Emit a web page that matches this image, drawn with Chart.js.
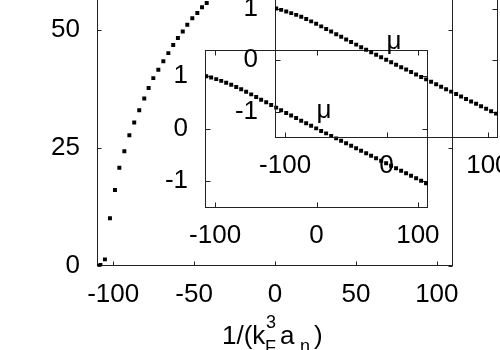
<!DOCTYPE html>
<html><head><meta charset="utf-8">
<script src="https://cdn.jsdelivr.net/npm/chart.js@4.4.1/dist/chart.umd.min.js"></script>
<style>
html,body{margin:0;padding:0;background:#fff;overflow:hidden;width:500px;height:350px;position:relative;}
canvas{position:absolute;left:0;top:-20px;}
</style></head><body>
<canvas id="main" width="600" height="400"></canvas>
<canvas id="insetLow" width="600" height="400"></canvas>
<canvas id="insetHigh" width="600" height="400"></canvas>
<script>
// main panel
const mainX = [-109.4, -107.9, -105.1, -102.0, -98.9, -96.2, -93.1, -90.0, -87.0, -83.9, -80.8, -78.1, -75.2, -72.1, -69.0, -65.9, -62.9, -60.0, -57.0, -54.2, -51.1, -48.0, -45.1, -42.2];
const mainY = [0.0, 0.2, 1.4, 10.1, 16.1, 20.8, 24.3, 27.7, 30.4, 33.0, 35.5, 37.7, 39.8, 41.6, 43.4, 45.1, 46.8, 48.3, 49.7, 51.1, 52.5, 53.6, 54.8, 55.7];
const mainXTicks = [-100, -50, 0, 50, 100];
const mainYTicks = [0, 25, 50];
// insets (mu)
const insetX = [-108.8, -103.9, -98.9, -94.0, -89.1, -84.1, -79.2, -74.3, -69.4, -64.4, -59.5, -54.6, -49.6, -44.7, -39.8, -34.9, -29.9, -25.0, -20.1, -15.1, -10.2, -5.3, -0.3, 4.6, 9.5, 14.5, 19.4, 24.3, 29.2, 34.2, 39.1, 44.0, 49.0, 53.9, 58.8, 63.8, 68.7, 73.6, 78.5, 83.5, 88.4, 93.3, 98.3, 103.2, 108.1];
const insetMu = [1.00, 0.975, 0.945, 0.912, 0.878, 0.840, 0.797, 0.752, 0.704, 0.655, 0.604, 0.554, 0.503, 0.452, 0.402, 0.352, 0.301, 0.252, 0.203, 0.153, 0.104, 0.056, 0.007, -0.041, -0.088, -0.136, -0.183, -0.230, -0.278, -0.325, -0.373, -0.420, -0.468, -0.515, -0.563, -0.610, -0.658, -0.705, -0.752, -0.800, -0.847, -0.895, -0.942, -0.990, -1.037];
const insetXTicks = [-100, 0, 100];
const insetYTicks = [-1, 0, 1];
const muLabel = 'μ';
const muAt = [0, 0.21];

const FONT = '"Liberation Sans", Arial, Helvetica, sans-serif';
Chart.defaults.font.family = FONT;
Chart.defaults.font.size = 26;
Chart.defaults.color = '#000';

function framePlugin(tickLen){
  return {id:'frame', beforeDatasetsDraw(chart){
    const {ctx, chartArea:a, scales:{x, y}} = chart;
    ctx.save(); ctx.strokeStyle = '#222'; ctx.lineWidth = 1;
    const L = Math.round(a.left)+0.5, R = Math.round(a.right)-0.5, T = Math.round(a.top)+0.5, B = Math.round(a.bottom)-0.5;
    ctx.strokeRect(L, T, R-L, B-T);
    ctx.beginPath();
    x.ticks.forEach(t => { const p = Math.round(x.getPixelForValue(t.value))+0.5;
      ctx.moveTo(p, B); ctx.lineTo(p, B-tickLen); ctx.moveTo(p, T); ctx.lineTo(p, T+tickLen); });
    y.ticks.forEach(t => { const p = Math.round(y.getPixelForValue(t.value))+0.5;
      ctx.moveTo(L, p); ctx.lineTo(L+tickLen, p); ctx.moveTo(R, p); ctx.lineTo(R-tickLen, p); });
    ctx.stroke(); ctx.restore();
  }};
}
const muPlugin = {id:'mu', afterDatasetsDraw(chart){
  const {ctx, scales:{x, y}} = chart;
  ctx.save(); ctx.font = '26px ' + FONT; ctx.fillStyle = '#000'; ctx.textAlign = 'left'; ctx.textBaseline = 'alphabetic';
  ctx.fillText(muLabel, x.getPixelForValue(muAt[0]), y.getPixelForValue(muAt[1]));
  ctx.restore();
}};
const titlePlugin = {id:'xtitle', afterDraw(chart){
  const {ctx, scales:{x}} = chart;
  const cx = x.getPixelForValue(0);
  const base = chart.chartArea.bottom + 78;
  const big = '26px ' + FONT, small = '18px ' + FONT;
  ctx.save(); ctx.fillStyle = '#000'; ctx.textAlign = 'left'; ctx.textBaseline = 'alphabetic';
  ctx.font = big; ctx.fillText('1/(k', cx-53, base);
  ctx.font = small; ctx.fillText('F', cx-10, base+9); ctx.fillText('3', cx-9, base-16);
  ctx.font = big; ctx.fillText('a', cx+5, base);
  ctx.font = small; ctx.fillText('n', cx+25, base+8);
  ctx.font = big; ctx.fillText(')', cx+39, base);
  ctx.restore();
}};

function makeChart(id, xs, ys, o){
  return new Chart(document.getElementById(id), {
    type: 'scatter',
    data: {datasets: [{data: xs.map((v, i) => ({x: v, y: ys[i]})), pointStyle: 'rect', pointRadius: 2.8, pointHoverRadius: 2.8,
      backgroundColor: '#000', borderWidth: 0}]},
    options: {responsive: false, animation: false, devicePixelRatio: 1, events: [],
      layout: {padding: o.pad},
      plugins: {legend: {display: false}, tooltip: {enabled: false}},
      scales: {
        x: {type: 'linear', min: o.xr[0], max: o.xr[1], grid: {display: false, drawTicks: false}, border: {display: false},
          ticks: {padding: 13, maxRotation: 0, autoSkip: false, callback: v => String(v)},
          afterBuildTicks: s => { s.ticks = o.xt.map(v => ({value: v})); },
          afterFit: s => { s.height = o.xh; s.paddingLeft = 0; s.paddingRight = 0; }},
        y: {type: 'linear', min: o.yr[0], max: o.yr[1], grid: {display: false, drawTicks: false}, border: {display: false},
          ticks: {padding: 17, autoSkip: false, callback: v => String(v)},
          afterBuildTicks: s => { s.ticks = o.yt.map(v => ({value: v})); },
          afterFit: s => { s.width = o.yw; s.paddingTop = 0; s.paddingBottom = 0; }}
      }
    },
    plugins: [framePlugin(o.tl)].concat(o.extra || [])
  });
}

// main: area (97,0)-(453,286) in canvas coords
makeChart('main', mainX, mainY, {pad: {left: 0, top: 0, right: 147, bottom: 0}, yw: 97, xh: 114,
  xr: [-110, 110], yr: [0, 60], xt: mainXTicks, yt: mainYTicks, tl: 4, extra: [titlePlugin]});
// lower inset: area (205,70)-(428,227.5)
makeChart('insetLow', insetX, insetMu, {pad: {left: 0, top: 70, right: 172, bottom: 0}, yw: 205, xh: 172.5,
  xr: [-110, 110], yr: [-1.5, 1.5], xt: insetXTicks, yt: insetYTicks, tl: 5, extra: [muPlugin]});
// upper inset: area (275,0)-(498,157.5)
makeChart('insetHigh', insetX, insetMu, {pad: {left: 0, top: 0, right: 102, bottom: 0}, yw: 275, xh: 242.5,
  xr: [-110, 110], yr: [-1.5, 1.5], xt: insetXTicks, yt: insetYTicks, tl: 5, extra: [muPlugin]});
</script>
</body></html>
